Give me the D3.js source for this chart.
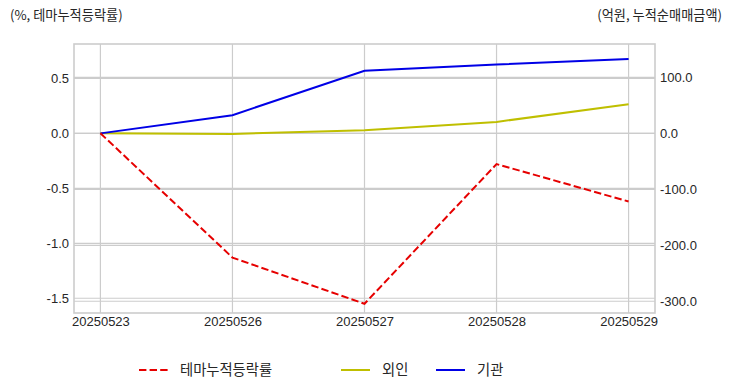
<!DOCTYPE html>
<html>
<head>
<meta charset="utf-8">
<script src="https://cdn.jsdelivr.net/npm/d3@7"></script>
<style>
  body { margin: 0; background: #fff; }
  text { font-family: "Liberation Sans", Arial, "Noto Sans CJK KR", sans-serif; fill: #262626; }
  .kr { font-family: "Noto Sans CJK KR", "Liberation Sans", sans-serif; }
</style>
</head>
<body>
<div id="chart"></div>
<script>
// data
const dates = ["20250523", "20250526", "20250527", "20250528", "20250529"];
const themeRate = [0, -1.13, -1.55, -0.28, -0.62];   // left axis, %
const foreign = [0, -1, 5.5, 20.5, 52];               // right axis, 억원
const institution = [0, 32.5, 112, 123, 133];         // right axis, 억원
const leftTicks = [-1.5, -1.0, -0.5, 0.0, 0.5];
const rightTicks = [-300, -200, -100, 0, 100];

const width = 732;
const height = 392;
const margin = { top: 44, right: 77, bottom: 79, left: 74 };

const svg = d3.select("#chart")
  .append("svg")
  .attr("width", width)
  .attr("height", height);

const x = d3.scalePoint()
  .domain(dates)
  .range([margin.left, width - margin.right])
  .padding(0.2);

const yL = d3.scaleLinear()
  .domain([-1.634, 0.812])
  .range([height - margin.bottom, margin.top]);

const yR = d3.scaleLinear()
  .domain([-321, 159.7])
  .range([height - margin.bottom, margin.top]);

// grid
const grid = svg.append("g").attr("stroke", "#cccccc").attr("stroke-width", 1.2);
grid.selectAll(".gx").data(dates).enter().append("line")
  .attr("x1", d => x(d)).attr("x2", d => x(d))
  .attr("y1", margin.top).attr("y2", height - margin.bottom);
grid.selectAll(".gl").data(leftTicks).enter().append("line")
  .attr("x1", margin.left).attr("x2", width - margin.right)
  .attr("y1", d => yL(d)).attr("y2", d => yL(d));
grid.selectAll(".gr").data(rightTicks).enter().append("line")
  .attr("x1", margin.left).attr("x2", width - margin.right)
  .attr("y1", d => yR(d)).attr("y2", d => yR(d));

// frame
svg.append("rect")
  .attr("x", margin.left).attr("y", margin.top)
  .attr("width", width - margin.left - margin.right)
  .attr("height", height - margin.top - margin.bottom)
  .attr("fill", "none").attr("stroke", "#cccccc").attr("stroke-width", 1.6);

// axes
const axisL = svg.append("g")
  .attr("transform", `translate(${margin.left},0)`)
  .call(d3.axisLeft(yL).tickValues(leftTicks).tickFormat(d3.format(".1f")).tickSize(0).tickPadding(5));
const axisR = svg.append("g")
  .attr("transform", `translate(${width - margin.right},0)`)
  .call(d3.axisRight(yR).tickValues(rightTicks).tickFormat(d3.format(".1f")).tickSize(0).tickPadding(5));
const axisB = svg.append("g")
  .attr("transform", `translate(0,${height - margin.bottom})`)
  .call(d3.axisBottom(x).tickSize(0).tickPadding(4));
[axisL, axisR, axisB].forEach(a => {
  a.select(".domain").remove();
  a.selectAll("text").attr("font-size", 13).attr("fill", "#262626")
    .style("font-family", "'Liberation Sans', Arial, sans-serif");
});
axisL.selectAll("text").text(d => d3.format(".1f")(d).replace("−", "-"));
axisR.selectAll("text").text(d => d3.format(".1f")(d).replace("−", "-"));

// lines
const lineL = d3.line().x((d, i) => x(dates[i])).y(d => yL(d));
const lineR = d3.line().x((d, i) => x(dates[i])).y(d => yR(d));

svg.append("path").datum(foreign)
  .attr("d", lineR).attr("fill", "none")
  .attr("stroke", "#bfbf00").attr("stroke-width", 2);
svg.append("path").datum(institution)
  .attr("d", lineR).attr("fill", "none")
  .attr("stroke", "#0000e6").attr("stroke-width", 2);
svg.append("path").datum(themeRate)
  .attr("d", lineL).attr("fill", "none")
  .attr("stroke", "#e60000").attr("stroke-width", 2)
  .attr("stroke-dasharray", "7.4,3.2");

// axis titles
svg.append("text").attr("class", "kr")
  .attr("x", 10).attr("y", 20).attr("font-size", 13.2)
  .text("(%, 테마누적등락률)");
svg.append("text").attr("class", "kr")
  .attr("x", 722).attr("y", 20).attr("font-size", 13.2)
  .attr("text-anchor", "end")
  .text("(억원, 누적순매매금액)");

// legend
const legendItems = [
  { name: "테마누적등락률", color: "#e60000", dash: "7.4,3.2", x: 139 },
  { name: "외인", color: "#bfbf00", dash: null, x: 341 },
  { name: "기관", color: "#0000e6", dash: null, x: 436 }
];
const legend = svg.append("g");
legendItems.forEach(it => {
  legend.append("line")
    .attr("x1", it.x).attr("x2", it.x + 29)
    .attr("y1", 370).attr("y2", 370)
    .attr("stroke", it.color).attr("stroke-width", 2)
    .attr("stroke-dasharray", it.dash);
  legend.append("text").attr("class", "kr")
    .attr("x", it.x + 41).attr("y", 375)
    .attr("font-size", 14.3)
    .text(it.name);
});
</script>
</body>
</html>
